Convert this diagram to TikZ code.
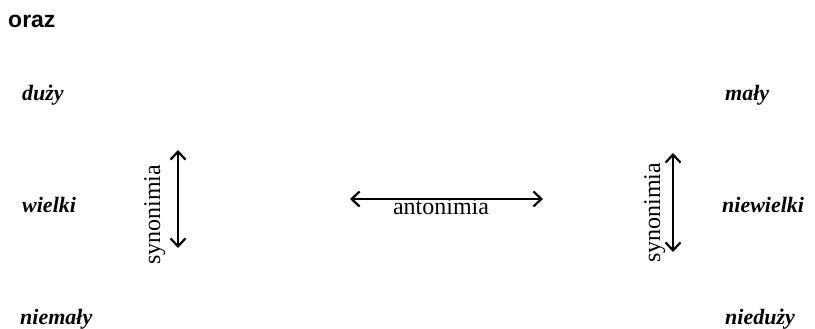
\documentclass[tikz,border=0pt]{standalone}
\usepackage{fontspec}
\setmainfont{Liberation Serif}
\newfontfamily\sansb{Liberation Sans}
\usetikzlibrary{arrows.meta}
\tikzset{
  word/.style={anchor=base, font=\fontsize{22}{24}\selectfont\bfseries\itshape, inner sep=0pt},
  rel/.style={anchor=base, font=\fontsize{24}{26}\selectfont, inner sep=0pt},
  dblarrow/.style={line width=2.2pt, {Straight Barb[length=8pt,width=15pt,line width=2.2pt]}-{Straight Barb[length=8pt,width=15pt,line width=2.2pt]}}
}
\begin{document}
\begin{tikzpicture}[x=1pt,y=1pt]
\useasboundingbox (0,0) rectangle (815,329);
\node[anchor=base west, inner sep=0pt, font=\sansb\fontsize{23}{25}\selectfont\bfseries] (oraz) at (8,301) {oraz};
\node[word, anchor=base west] (duzy) at (22,228) {duży};
\node[word, anchor=base west] (wielki) at (22,116) {wielki};
\node[word, anchor=base west] (niemaly) at (20,4) {niemały};
\node[word, anchor=base west] (maly) at (725,228) {mały};
\node[word, anchor=base west] (niewielki) at (722,116) {niewielki};
\node[word, anchor=base west] (neduzy) at (725,4) {nieduży};
% left synonymy
\coordinate (ls1) at (178,179);
\coordinate (ls2) at (178,81);
\draw[dblarrow] (ls1) -- (ls2);
\node[rel, rotate=90] (lsyn) at (160,114) {synonimia};
% right synonymy
\coordinate (rs1) at (673,176);
\coordinate (rs2) at (673,77);
\draw[dblarrow] (rs1) -- (rs2);
\node[rel, rotate=90] (rsyn) at (660,116) {synonimia};
% antonymy
\coordinate (a1) at (350,130);
\coordinate (a2) at (543,130);
\draw[dblarrow] (a1) -- (a2);
\node[rel] (anto) at (441,114) {antonimia};
\end{tikzpicture}
\end{document}
